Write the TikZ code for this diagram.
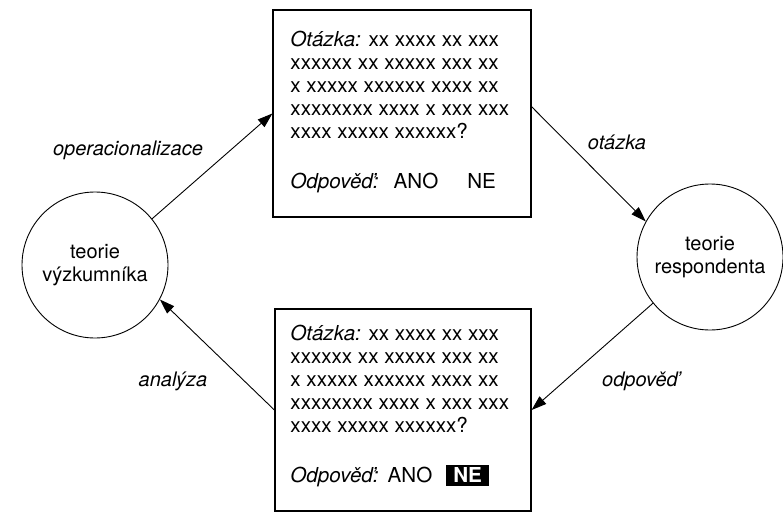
\documentclass[tikz,border=0pt]{standalone}
\usepackage{fontspec}
\setmainfont{TeX Gyre Heros}
\usetikzlibrary{arrows.meta}
\begin{document}
\begin{tikzpicture}[x=1pt,y=-1pt,
  font=\fontsize{20}{23}\selectfont,
  line width=0.9pt,
  >={Triangle[length=15pt,width=10pt]},
  circ/.style={circle,draw,line width=0.9pt,minimum size=146pt,inner sep=0pt,align=center},
  qbox/.style={draw,rectangle,line width=1.2pt,inner sep=0pt},
  qtext/.style={anchor=north west,align=left,inner sep=0pt,font=\fontsize{20.6}{23}\selectfont},
  lbl/.style={font=\fontsize{20}{23}\selectfont\itshape}]
\useasboundingbox (0,0) rectangle (783,514);
\node[circ] (lc) at (95,265) {teorie\\výzkumníka};
\node[circ] (rc) at (710,257) {teorie\\respondenta};
\node[qbox,minimum width=258pt,minimum height=207pt] (tb) at (402,113.5) {};
\node[qbox,minimum width=256pt,minimum height=202pt] (bb) at (403,410) {};
\node[qtext] (tt) at (290,31) {\textit{Otázka:} xx xxxx xx xxx\\
xxxxxx xx xxxxx xxx xx\\
x xxxxx xxxxxx xxxx xx\\
xxxxxxxx xxxx x xxx xxx\\
xxxx xxxxx xxxxxx?\\[27pt]
\textit{Odpověď:}\hspace{15pt}ANO\hspace{29pt}NE};
\node[qtext] (bt) at (290,325) {\textit{Otázka:} xx xxxx xx xxx\\
xxxxxx xx xxxxx xxx xx\\
x xxxxx xxxxxx xxxx xx\\
xxxxxxxx xxxx x xxx xxx\\
xxxx xxxxx xxxxxx?\\[27pt]
\textit{Odpověď:}\hspace{9pt}ANO\hspace{14pt}{\fboxsep=3pt\colorbox{black}{\hspace{4pt}\textcolor{white}{\textbf{NE}}\hspace{4pt}}}};
\node[lbl] (l1) at (128,150) {operacionalizace};
\node[lbl] (l2) at (617,142) {otázka};
\node[lbl] (l3) at (640,381) {odpověď};
\node[lbl] (l4) at (173,381) {analýza};
\draw[->] (lc.39) -- (tb.west);
\draw[->] (tb.3) -- (rc.151);
\draw[->] (rc.219) -- (bb.east);
\draw[->] (bb.west) -- (lc.-28);
\end{tikzpicture}
\end{document}
